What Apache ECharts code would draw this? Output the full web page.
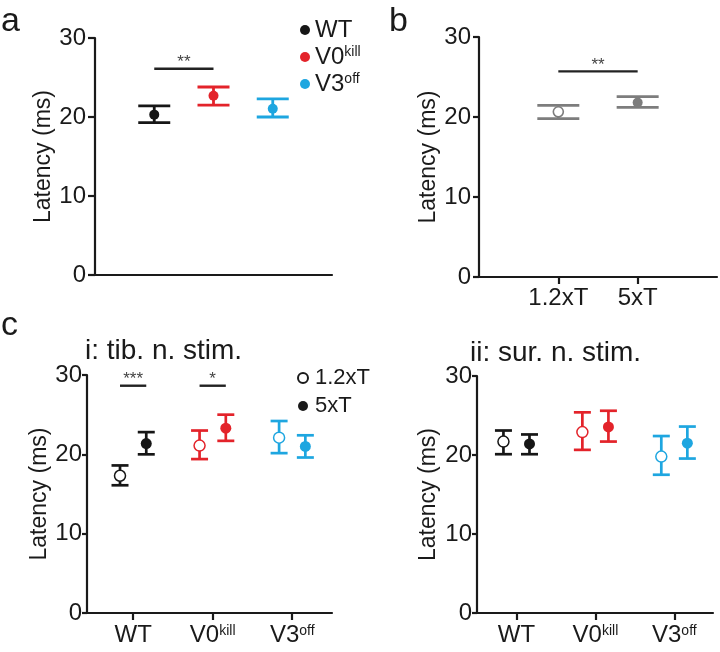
<!DOCTYPE html>
<html>
<head>
<meta charset="utf-8">
<script src="https://cdn.jsdelivr.net/npm/echarts@6/dist/echarts.min.js"></script>
<style>
html,body{margin:0;padding:0;background:#fff;}
#chart{width:720px;height:652px;}
</style>
</head>
<body>
<div id="chart"></div>
<script>
// ---------- data ----------
const groups = ['WT', 'V0kill', 'V3off'];
const groupColors = ['#161616', '#e3232a', '#1ea6e0'];

// panel a
const aMean = [20.3, 22.7, 21.05];
const aLow  = [19.3, 21.5, 20.0];
const aHigh = [21.4, 23.8, 22.3];

// panel b
const bCats = ['1.2xT', '5xT'];
const bMean = [20.65, 21.8];
const bLow  = [19.8, 21.2];
const bHigh = [21.45, 22.55];

// panel c i: tib. n. stim.
const ciOpenMean = [17.3, 21.1, 22.1];
const ciOpenLow  = [16.1, 19.4, 20.15];
const ciOpenHigh = [18.6, 23.0, 24.2];
const ciFillMean = [21.35, 23.3, 21.0];
const ciFillLow  = [20.0, 21.7, 19.6];
const ciFillHigh = [22.8, 25.0, 22.4];

// panel c ii: sur. n. stim.
const ciiOpenMean = [21.7, 22.9, 19.8];
const ciiOpenLow  = [20.1, 20.65, 17.5];
const ciiOpenHigh = [23.1, 25.4, 22.4];
const ciiFillMean = [21.4, 23.55, 21.5];
const ciiFillLow  = [20.1, 21.7, 19.55];
const ciiFillHigh = [22.6, 25.6, 23.6];

// significance annotations
const sigA  = [{ from: 1, to: 2, y: 26.1, text: '**' }];
const sigB  = [{ from: 1, to: 2, y: 25.7, text: '**' }];
const sigCi = [{ from: 0.835, to: 1.165, y: 28.65, text: '***' },
               { from: 1.835, to: 2.165, y: 28.65, text: '*' }];

const yTicks = [0, 10, 20, 30];
const panelTitles = ['i: tib. n. stim.', 'ii: sur. n. stim.'];

// ---------- helpers ----------
const FONT = '"Liberation Sans", Arial, Helvetica, sans-serif';
const INK = '#1a1a1a';
const GRAY = '#7d7d7d';
const OFF = 0.165;

const labelRich = {
  m: { fontSize: 24, fontFamily: FONT, color: INK, lineHeight: 26 },
  s: { fontSize: 14, fontFamily: FONT, color: INK, lineHeight: 14, verticalAlign: 'top', padding: [2, 0, 0, 0] }
};
function groupLabel(name) {
  if (name === 'V0kill') return '{m|V0}{s|kill}';
  if (name === 'V3off') return '{m|V3}{s|off}';
  return '{m|' + name + '}';
}

function errRender(capHalf, lw) {
  return function (params, api) {
    const x = api.value(0), lo = api.value(1), hi = api.value(2);
    const p1 = api.coord([x, lo]), p2 = api.coord([x, hi]);
    const color = api.visual('color');
    const st = { stroke: color, lineWidth: lw, fill: null };
    return {
      type: 'group',
      children: [
        { type: 'line', shape: { x1: p1[0], y1: p1[1], x2: p2[0], y2: p2[1] }, style: st },
        { type: 'line', shape: { x1: p1[0] - capHalf, y1: p1[1], x2: p1[0] + capHalf, y2: p1[1] }, style: st },
        { type: 'line', shape: { x1: p2[0] - capHalf, y1: p2[1], x2: p2[0] + capHalf, y2: p2[1] }, style: st }
      ]
    };
  };
}
function sigRender(lw, starSize) {
  return function (params, api) {
    const a = api.coord([api.value(0), api.value(2)]);
    const b = api.coord([api.value(1), api.value(2)]);
    const txt = sigAll[params.seriesIndex][params.dataIndex].text;
    return {
      type: 'group',
      children: [
        { type: 'line', shape: { x1: a[0], y1: a[1], x2: b[0], y2: b[1] }, style: { stroke: '#222', lineWidth: lw } },
        { type: 'text', x: (a[0] + b[0]) / 2, y: a[1] + 2,
          style: { text: txt, fill: '#444', font: starSize + 'px ' + FONT, textAlign: 'center', textVerticalAlign: 'bottom' } }
      ]
    };
  };
}
const sigAll = {};

function yAxisCfg(gi, nameGap, margin, tickLen) {
  return {
    gridIndex: gi, type: 'value', min: 0, max: 30, interval: 10,
    name: 'Latency (ms)', nameLocation: 'middle', nameGap: nameGap,
    nameTextStyle: { fontSize: 23, fontFamily: FONT, color: INK },
    axisLine: { show: true, lineStyle: { color: INK, width: 2.2 } },
    axisTick: { show: true, length: tickLen, lineStyle: { color: INK, width: 2.2 } },
    axisLabel: { fontSize: 24, fontFamily: FONT, color: INK, margin: margin,
                 customValues: yTicks },
    splitLine: { show: false }
  };
}
function xAxisCfg(gi, min, max, tickVals, fmt) {
  return {
    gridIndex: gi, type: 'value', min: min, max: max,
    axisLine: { show: true, onZero: false, lineStyle: { color: INK, width: 2.2 } },
    axisTick: { show: tickVals.length > 0, length: 7, lineStyle: { color: INK, width: 2.2 }, customValues: tickVals },
    axisLabel: { show: tickVals.length > 0, margin: 9, customValues: tickVals, formatter: fmt, rich: labelRich,
                 fontSize: 24, fontFamily: FONT, color: INK },
    splitLine: { show: false }
  };
}

// ---------- series ----------
const series = [];
function addSeries(s) { series.push(s); return series.length - 1; }

// panel a
addSeries({
  type: 'custom', xAxisIndex: 0, yAxisIndex: 0, z: 2,
  renderItem: errRender(16, 2.8),
  data: groups.map((g, i) => ({ value: [i + 1, aLow[i], aHigh[i]], itemStyle: { color: groupColors[i] } }))
});
groups.forEach((g, i) => {
  addSeries({
    type: 'scatter', name: g, xAxisIndex: 0, yAxisIndex: 0, z: 3,
    symbol: 'circle', symbolSize: 10,
    itemStyle: { color: groupColors[i], opacity: 1 },
    data: [[i + 1, aMean[i]]]
  });
});
let si = addSeries({
  type: 'custom', xAxisIndex: 0, yAxisIndex: 0, z: 2,
  renderItem: sigRender(2.4, 17),
  data: sigA.map(s => [s.from, s.to, s.y])
});
sigAll[si] = sigA;

// panel b
addSeries({
  type: 'custom', xAxisIndex: 1, yAxisIndex: 1, z: 2,
  renderItem: errRender(21, 2.8),
  data: bCats.map((c, i) => ({ value: [i + 1, bLow[i], bHigh[i]], itemStyle: { color: GRAY } }))
});
addSeries({
  type: 'scatter', name: 'b', xAxisIndex: 1, yAxisIndex: 1, z: 3,
  symbol: 'circle', symbolSize: 10,
  itemStyle: { opacity: 1 },
  data: bCats.map((c, i) => ({
    value: [i + 1, bMean[i]],
    itemStyle: i === 0 ? { color: '#fff', borderColor: GRAY, borderWidth: 1.6, opacity: 1 } : { color: GRAY, opacity: 1 }
  }))
});
si = addSeries({
  type: 'custom', xAxisIndex: 1, yAxisIndex: 1, z: 2,
  renderItem: sigRender(2.4, 17),
  data: sigB.map(s => [s.from, s.to, s.y])
});
sigAll[si] = sigB;

// panel c (i and ii)
function addStimPanel(ax, openMean, openLow, openHigh, fillMean, fillLow, fillHigh) {
  addSeries({
    type: 'custom', xAxisIndex: ax, yAxisIndex: ax, z: 2,
    renderItem: errRender(8.5, 2.7),
    data: groups.map((g, i) => ({ value: [i + 1 - OFF, openLow[i], openHigh[i]], itemStyle: { color: groupColors[i] } }))
      .concat(groups.map((g, i) => ({ value: [i + 1 + OFF, fillLow[i], fillHigh[i]], itemStyle: { color: groupColors[i] } })))
  });
  addSeries({
    type: 'scatter', name: '1.2xT', xAxisIndex: ax, yAxisIndex: ax, z: 3,
    symbol: 'circle', symbolSize: 11,
    itemStyle: { opacity: 1 },
    data: groups.map((g, i) => ({ value: [i + 1 - OFF, openMean[i]],
      itemStyle: { color: '#fff', borderColor: groupColors[i], borderWidth: 1.5, opacity: 1 } }))
  });
  addSeries({
    type: 'scatter', name: '5xT', xAxisIndex: ax, yAxisIndex: ax, z: 3,
    symbol: 'circle', symbolSize: 11,
    itemStyle: { opacity: 1 },
    data: groups.map((g, i) => ({ value: [i + 1 + OFF, fillMean[i]], itemStyle: { color: groupColors[i], opacity: 1 } }))
  });
}
addStimPanel(2, ciOpenMean, ciOpenLow, ciOpenHigh, ciFillMean, ciFillLow, ciFillHigh);
si = addSeries({
  type: 'custom', xAxisIndex: 2, yAxisIndex: 2, z: 2,
  renderItem: sigRender(2.4, 17),
  data: sigCi.map(s => [s.from, s.to, s.y])
});
sigAll[si] = sigCi;
addStimPanel(3, ciiOpenMean, ciiOpenLow, ciiOpenHigh, ciiFillMean, ciiFillLow, ciiFillHigh);

// ---------- option ----------
const option = {
  backgroundColor: '#fff',
  animation: false,
  textStyle: { fontFamily: FONT },
  title: [
    { text: 'a', left: 1, top: 5, padding: 0, textStyle: { fontSize: 34, fontWeight: 'normal', fontFamily: FONT, color: INK } },
    { text: 'b', left: 389, top: 5, padding: 0, textStyle: { fontSize: 34, fontWeight: 'normal', fontFamily: FONT, color: INK } },
    { text: 'c', left: 1, top: 309, padding: 0, textStyle: { fontSize: 34, fontWeight: 'normal', fontFamily: FONT, color: INK } },
    { text: panelTitles[0], left: 85, top: 337, padding: 0, textStyle: { fontSize: 28, fontWeight: 'normal', fontFamily: FONT, color: INK } },
    { text: panelTitles[1], left: 470, top: 339, padding: 0, textStyle: { fontSize: 28, fontWeight: 'normal', fontFamily: FONT, color: INK } }
  ],
  legend: [
    {
      data: groups, left: 300, top: 18, orient: 'vertical', itemGap: 2,
      icon: 'circle', itemWidth: 10, itemHeight: 10, selectedMode: false, padding: 0,
      formatter: groupLabel,
      textStyle: { rich: {
        m: { fontSize: 24, fontFamily: FONT, color: INK, lineHeight: 26 },
        s: { fontSize: 14, fontFamily: FONT, color: INK, lineHeight: 14, verticalAlign: 'top', padding: [1, 0, 0, 0] }
      } }
    },
    {
      data: [
        { name: '1.2xT', icon: 'circle', itemStyle: { color: '#fff', borderColor: INK, borderWidth: 2, opacity: 1 } },
        { name: '5xT', icon: 'circle', itemStyle: { color: INK, opacity: 1 } }
      ],
      left: 297, top: 366, orient: 'vertical', itemGap: 4, padding: 0,
      itemWidth: 10, itemHeight: 10, selectedMode: false,
      textStyle: { fontSize: 22, fontFamily: FONT, color: INK, lineHeight: 24, padding: [0, 0, 0, 2] }
    }
  ],
  grid: [
    { left: 95, top: 38, width: 237, height: 237 },
    { left: 477, top: 37, width: 240, height: 240 },
    { left: 87, top: 375, width: 245, height: 238 },
    { left: 477, top: 376, width: 236, height: 237 }
  ],
  xAxis: [
    xAxisCfg(0, 0, 4, [], null),
    xAxisCfg(1, -0.025, 3.0, [1, 2], v => bCats[Math.round(v) - 1]),
    xAxisCfg(2, 0.42, 3.5, [1, 2, 3], v => groupLabel(groups[Math.round(v) - 1])),
    xAxisCfg(3, 0.5, 3.49, [1, 2, 3], v => groupLabel(groups[Math.round(v) - 1]))
  ],
  yAxis: [
    yAxisCfg(0, 40, 9, 7),
    yAxisCfg(1, 37, 6, 6),
    yAxisCfg(2, 32, 5, 5),
    yAxisCfg(3, 37, 5, 5)
  ],
  series: series
};

const chart = echarts.init(document.getElementById('chart'), null, { renderer: 'canvas' });
chart.setOption(option);
</script>
</body>
</html>
